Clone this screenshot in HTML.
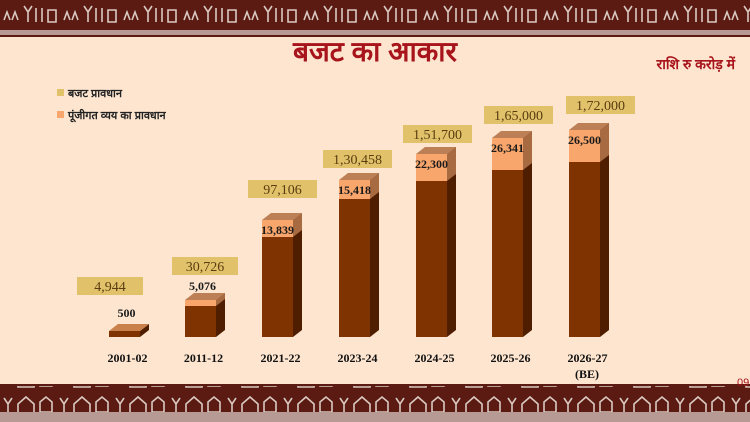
<!DOCTYPE html>
<html><head><meta charset="utf-8"><style>
html,body{margin:0;padding:0;width:750px;height:422px;overflow:hidden;background:#fde5cf}
</style></head><body>
<svg width="750" height="422" xmlns="http://www.w3.org/2000/svg" style="position:absolute;left:0;top:0">
<defs>
<pattern id="tp" x="0" y="0" width="60" height="28" patternUnits="userSpaceOnUse">
<rect width="60" height="28" fill="#5b1a12"/>
<path d="M4 20 l3 -8 l3 8 M12 20 l3 -8 l3 8 M24 6 l4 6 l4 -6 M28 12 v10 M36 8 v14 M42 8 v14 M48 10 h8 v12 h-8z" stroke="#d9c9c0" stroke-width="1.6" fill="none"/>
</pattern>
<pattern id="bp" x="0" y="0" width="56" height="26" patternUnits="userSpaceOnUse">
<rect width="56" height="26" fill="#5b1a12"/>
<path d="M4 8 l4 6 l4 -6 M8 14 v8 M18 14 l8 -7 l8 7 v9 h-16z M40 12 l6 -5 l6 5 v10 h-12z" stroke="#d9c9c0" stroke-width="1.6" fill="none"/>
</pattern>
</defs>
<rect x="0" y="0" width="750" height="30" fill="url(#tp)"/>
<rect x="0" y="30" width="750" height="5" fill="#b89a94"/>
<rect x="0" y="35" width="750" height="2" fill="#5b1a12"/>
<rect x="0" y="384" width="750" height="2" fill="#5b1a12"/>
<rect x="0" y="386" width="750" height="26" fill="url(#bp)"/>
<rect x="0" y="412" width="750" height="10" fill="#b89a94"/>
<text x="375" y="61" text-anchor="middle" font-family="'Liberation Sans','Noto Sans CJK SC',sans-serif" font-size="28" font-weight="bold" fill="#a8141c">बजट का आकार</text>
<text x="735" y="69" text-anchor="end" font-family="'Liberation Sans','Noto Sans CJK SC',sans-serif" font-size="14" font-weight="bold" fill="#a8141c">राशि रु करोड़ में</text>
<rect x="57" y="89" width="7" height="7" fill="#e1c26a"/>
<text x="68" y="97" font-family="'Liberation Sans','Noto Sans CJK SC',sans-serif" font-size="11" font-weight="bold" fill="#222">बजट प्रावधान</text>
<rect x="57" y="111" width="7" height="7" fill="#f9a66c"/>
<text x="68" y="119" font-family="'Liberation Sans','Noto Sans CJK SC',sans-serif" font-size="11" font-weight="bold" fill="#222">पूंजीगत व्यय का प्रावधान</text>
<g id="bars"></g>
<text x="737" y="386" font-family="'Liberation Sans',sans-serif" font-size="11" fill="#a8141c">09</text>
</svg>
<script>
var d=[["2001-02",109,331,331,"4,944","500",77,277],["2011-12",185,300,306,"30,726","5,076",172,257],["2021-22",262,220,237,"97,106","13,839",248,180],["2023-24",339,180,199,"1,30,458","15,418",323,150],["2024-25",416,154,181,"1,51,700","22,300",403,125],["2025-26",492,138,170,"1,65,000","26,341",484,106],["2026-27",569,130,162,"1,72,000","26,500",566,96]];
var s="",B=337,w=31,dx=9,dy=7;
d.forEach(function(r,i){var x=r[1],t=r[2],o=r[3];
s+='<polygon points="'+(x+w)+','+t+' '+(x+w+dx)+','+(t-dy)+' '+(x+w+dx)+','+(B-dy)+' '+(x+w)+','+B+'" fill="#4f1e00"/>';
if(o>t)s+='<polygon points="'+(x+w)+','+t+' '+(x+w+dx)+','+(t-dy)+' '+(x+w+dx)+','+(o-dy)+' '+(x+w)+','+o+'" fill="#a86a40"/>';
s+='<rect x="'+x+'" y="'+o+'" width="'+w+'" height="'+(B-o)+'" fill="#7f3300"/>';
if(o>t)s+='<rect x="'+x+'" y="'+t+'" width="'+w+'" height="'+(o-t)+'" fill="#f9a66c"/>';
s+='<polygon points="'+x+','+t+' '+(x+dx)+','+(t-dy)+' '+(x+w+dx)+','+(t-dy)+' '+(x+w)+','+t+'" fill="'+(i==0?'#c9804a':'#bd7f55')+'"/>';
s+='<rect x="'+r[6]+'" y="'+r[7]+'" width="'+(i<2?66:69)+'" height="18" fill="#e1c26a"/>';
s+='<text x="'+(r[6]+(i<2?33:34.5))+'" y="'+(r[7]+14)+'" text-anchor="middle" font-size="14" fill="#5a3d10" font-family="Liberation Serif,serif">'+r[4]+'</text>';
var ly=i<2?(i==0?317:290):t+14;
s+='<text x="'+(x+w/2+(i<2?2:0))+'" y="'+ly+'" text-anchor="middle" font-size="12" fill="#1a1a1a" font-family="Liberation Serif,serif" font-weight="bold">'+r[5]+'</text>';
s+='<text x="'+(x+w/2+3)+'" y="362" text-anchor="middle" font-size="12" fill="#111" font-family="Liberation Serif,serif" font-weight="bold">'+r[0]+'</text>';
});
s+='<text x="587" y="378" text-anchor="middle" font-size="12" fill="#111" font-family="Liberation Serif,serif" font-weight="bold">(BE)</text>';
document.getElementById("bars").innerHTML=s;
</script>
</body></html>
